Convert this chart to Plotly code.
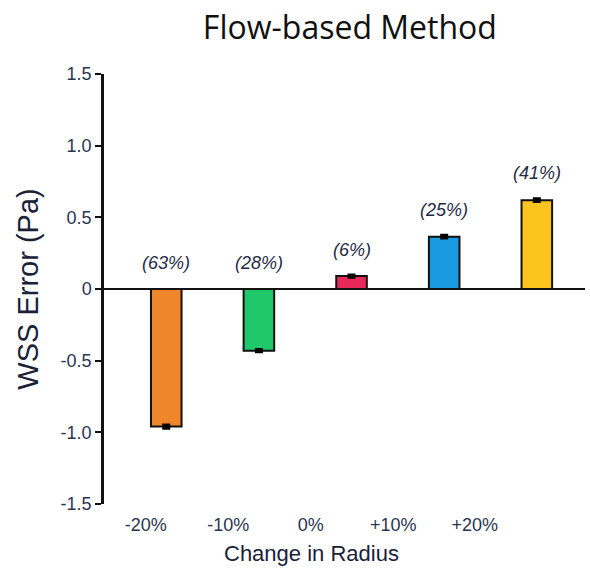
import plotly.graph_objects as go

categories = ["-20%", "-10%", "0%", "+10%", "+20%"]
values = [-0.96, -0.43, 0.09, 0.365, 0.62]
errors = [0.012, 0.008, 0.008, 0.01, 0.01]
pct_labels = ["(63%)", "(28%)", "(6%)", "(25%)", "(41%)"]
label_y = [0.18, 0.18, 0.27, 0.55, 0.81]
colors = ["#F0862A", "#1FC868", "#E8285A", "#1A9AE0", "#FBC41E"]
y_ticks = [1.5, 1.0, 0.5, 0, -0.5, -1.0, -1.5]
y_ticktext = ["1.5", "1.0", "0.5", "0", "-0.5", "-1.0", "-1.5"]

xpos = list(range(len(categories)))
label_pos = [-0.22, 0.67, 1.56, 2.45, 3.33]

fig = go.Figure()
fig.add_trace(go.Bar(
    x=xpos, y=values, width=0.33,
    marker=dict(color=colors, line=dict(color="#111111", width=2)),
    error_y=dict(type="data", array=errors, visible=True, color="#000000", thickness=3, width=4),
    showlegend=False,
))
fig.add_trace(go.Scatter(x=label_pos, y=[0]*len(label_pos), xaxis="x2", mode="markers",
                         marker=dict(opacity=0), showlegend=False, hoverinfo="skip"))

for xp, yl, t in zip(xpos, label_y, pct_labels):
    fig.add_annotation(x=xp, y=yl, text="<i>" + t + "</i>", showarrow=False,
                       font=dict(family="Liberation Sans, Arial", size=18, color="#1f2a44"))

fig.add_annotation(x=0.432, y=-0.116, xref="paper", yref="paper", text="Change in Radius",
                   showarrow=False, xanchor="center", yanchor="middle",
                   font=dict(family="Liberation Sans, Arial", size=22, color="#1a2238"))

fig.update_layout(
    width=590, height=571,
    margin=dict(l=104, r=5, t=74, b=67),
    plot_bgcolor="white", paper_bgcolor="white",
    title=dict(text="Flow-based Method", x=0.593, xanchor="center", y=0.952, yanchor="middle",
               font=dict(family="Open Sans", size=32, color="#111111")),
    xaxis=dict(range=[-0.672, 4.52], showticklabels=False, showgrid=False, zeroline=False,
               showline=False, ticks=""),
    xaxis2=dict(range=[-0.672, 4.52], overlaying="x", anchor="y", side="bottom",
                tickvals=label_pos, ticktext=categories, showgrid=False, zeroline=False,
                showline=False, ticks="outside", ticklen=4, tickcolor="rgba(0,0,0,0)",
                tickfont=dict(family="Liberation Sans, Arial", size=18, color="#2a3550")),
    yaxis=dict(range=[-1.5, 1.5], tickvals=y_ticks, ticktext=y_ticktext,
               showgrid=False, zeroline=True, zerolinecolor="#111111", zerolinewidth=2,
               showline=True, linecolor="#111111", linewidth=2.5,
               ticks="outside", ticklen=6, tickwidth=2, tickcolor="#111111",
               tickfont=dict(family="Liberation Sans, Arial", size=18, color="#2a3550"),
               title=dict(text="WSS Error (Pa)", standoff=14,
                          font=dict(family="Liberation Sans, Arial", size=29, color="#1a2238"))),
)

fig.write_html("out.html")
